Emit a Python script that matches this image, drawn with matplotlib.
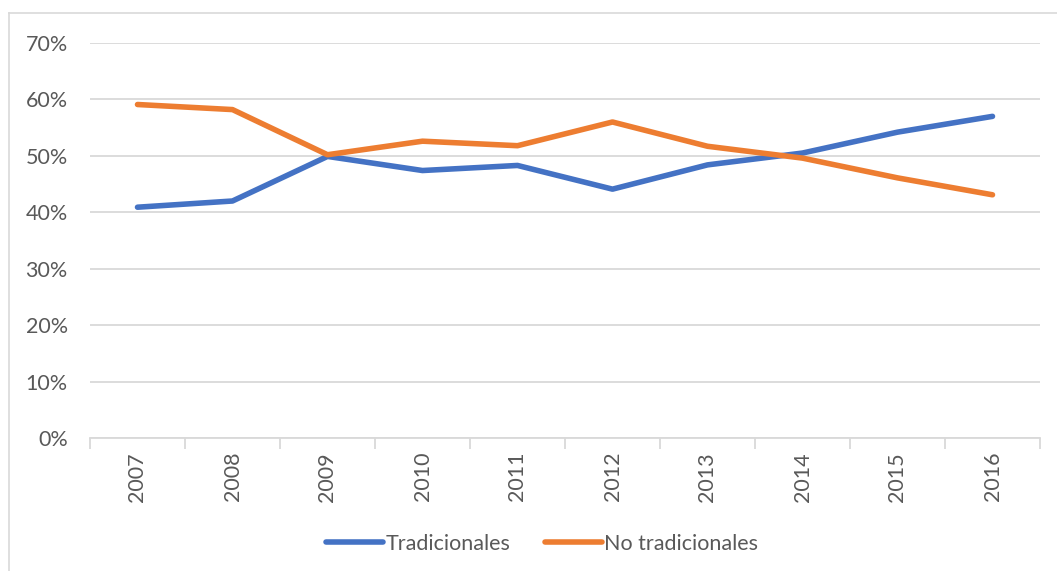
import matplotlib
matplotlib.use('Agg')
import matplotlib.pyplot as plt
from matplotlib.lines import Line2D
from matplotlib.ticker import PercentFormatter

years = ['2007', '2008', '2009', '2010', '2011', '2012', '2013', '2014', '2015', '2016']
tradicionales = [0.409, 0.420, 0.499, 0.474, 0.483, 0.441, 0.484, 0.505, 0.542, 0.570]
no_tradicionales = [0.591, 0.582, 0.502, 0.526, 0.518, 0.560, 0.517, 0.496, 0.461, 0.431]

blue = '#4472C4'
orange = '#ED7D31'
grid_col = '#D9D9D9'
text_col = '#595959'

plt.rcParams['font.family'] = ['Lato', 'DejaVu Sans']

fig = plt.figure(figsize=(10.57, 5.71), dpi=100)
ax = fig.add_axes([90/1057, 133/571, 950/1057, 395/571])

x = range(len(years))
ax.plot(x, tradicionales, color=blue, lw=4, solid_capstyle='round', solid_joinstyle='round', label='Tradicionales')
ax.plot(x, no_tradicionales, color=orange, lw=4, solid_capstyle='round', solid_joinstyle='round', label='No tradicionales')

ax.set_xlim(-0.5, len(years) - 0.5)
ax.set_ylim(0, 0.7)
ax.set_yticks([i / 10 for i in range(8)])
ax.yaxis.set_major_formatter(PercentFormatter(1.0, decimals=0))
ax.grid(axis='y', color=grid_col, lw=1.3)
ax.set_axisbelow(True)

# category labels at centres, tick marks at boundaries
ax.set_xticks(list(x))
ax.set_xticklabels(years, rotation=90, fontsize=15.5, color=text_col)
ax.set_xticks([i - 0.5 for i in range(len(years) + 1)], minor=True)
ax.tick_params(axis='x', which='major', length=0, pad=10)
ax.tick_params(axis='x', which='minor', length=8, color=grid_col, width=1.3)
ax.tick_params(axis='y', length=0, labelsize=15.5, labelcolor=text_col, pad=16)

for s in ['top', 'right', 'left']:
    ax.spines[s].set_visible(False)
ax.spines['bottom'].set_color(grid_col)
ax.spines['bottom'].set_linewidth(1.3)

handles = [Line2D([], [], color=blue, lw=4, solid_capstyle='round'),
           Line2D([], [], color=orange, lw=4, solid_capstyle='round')]
fig.legend(handles, ['Tradicionales', 'No tradicionales'], loc='center',
           bbox_to_anchor=(0.513, 27/571), ncol=2, frameon=False, fontsize=15.5,
           labelcolor=text_col, handlelength=2.65, handletextpad=0.1, columnspacing=1.6)

# outer chart frame
fig.add_artist(Line2D([9/1057, 9/1057], [0, 558/571], color=grid_col, lw=1.2, transform=fig.transFigure))
fig.add_artist(Line2D([9/1057, 1], [558/571, 558/571], color=grid_col, lw=1.2, transform=fig.transFigure))

fig.savefig('out.png', dpi=100)
